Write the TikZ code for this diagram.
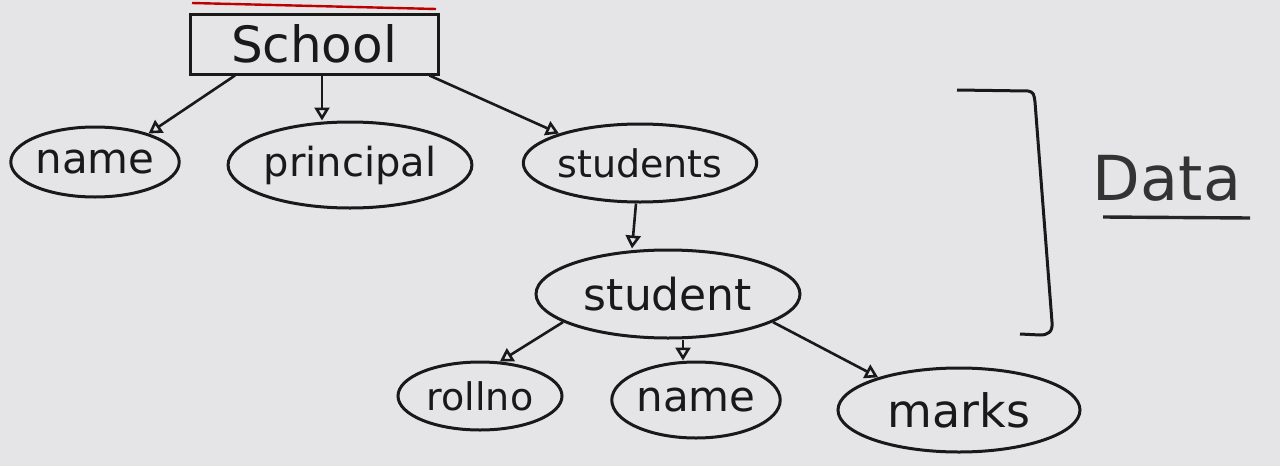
\documentclass[tikz,border=0pt]{standalone}
\usepackage{fontspec}
\setmainfont{DejaVu Sans}
\usetikzlibrary{shapes.geometric,arrows.meta}
\definecolor{paper}{RGB}{229,229,231}
\definecolor{ink}{RGB}{25,25,25}
\newcommand{\fs}[1]{\fontsize{#1}{#1}\selectfont}
\tikzset{
  ell/.style={ellipse, draw=ink, line width=3pt, inner sep=0pt, text=ink},
  conn/.style={draw=ink, line width=2.6pt, -{Triangle[open,length=13pt,width=15pt,line width=2.6pt]}},
}
\begin{document}
\begin{tikzpicture}[x=1pt,y=-1pt]
\fill[paper] (0,0) rectangle (1280,466);
\useasboundingbox (0,0) rectangle (1280,466);
% red pen mark above School
\draw[red!75!black, line width=2.4pt] (192,3) -- (436,9);
% nodes
\node[draw=ink, line width=3pt, minimum width=248pt, minimum height=60pt, inner sep=0pt, text=ink] (school) at (314,44) {\fs{50}School};
\node[ell, minimum width=154pt, minimum height=70pt] (name1) at (95,162) {\fs{42}name};
\node[ell, minimum width=224pt, minimum height=86pt] (principal) at (350,165) {\fs{40}principal};
\node[ell, minimum width=224pt, minimum height=78pt] (students) at (640,163) {\fs{38}students};
\node[ell, minimum width=264pt, minimum height=88pt] (student) at (668,294) {\fs{44}student};
\node[ell, minimum width=164pt, minimum height=68pt] (rollno) at (480,396) {\fs{38}rollno};
\node[ell, minimum width=168pt, minimum height=76pt] (name2) at (696,400) {\fs{42}name};
\node[ell, minimum width=242pt, minimum height=84pt] (marks) at (959,410) {\fs{46}marks};
% connectors
\draw[conn] ([xshift=-79pt]school.south) -- (name1.28);
\draw[conn] ([xshift=8pt]school.south) -- ([xshift=-28pt]principal.north);
\draw[conn] ([xshift=-10pt]school.south east) -- (students.160);
\draw[conn] ([xshift=-4pt]students.south) -- ([xshift=-36pt]student.north);
\draw[conn] (student.195) -- (rollno.60);
\draw[conn] ([xshift=15pt]student.south) -- ([xshift=-13pt]name2.north);
\draw[conn] (student.345) -- (marks.158);
% bracket and label
\draw[ink, line width=3pt, line join=round] (957,90) -- (1028,91) .. controls (1034,92) and (1034,95) .. (1035,102) -- (1052,322) .. controls (1053,332) and (1048,335) .. (1040,335) -- (1020,334);
\node[text=black!80, inner sep=0pt] (data) at (1167,178) {\fs{62}Data};
\draw[black!85, line width=3.4pt] (1103,217) -- (1250,218);
\end{tikzpicture}
\end{document}
